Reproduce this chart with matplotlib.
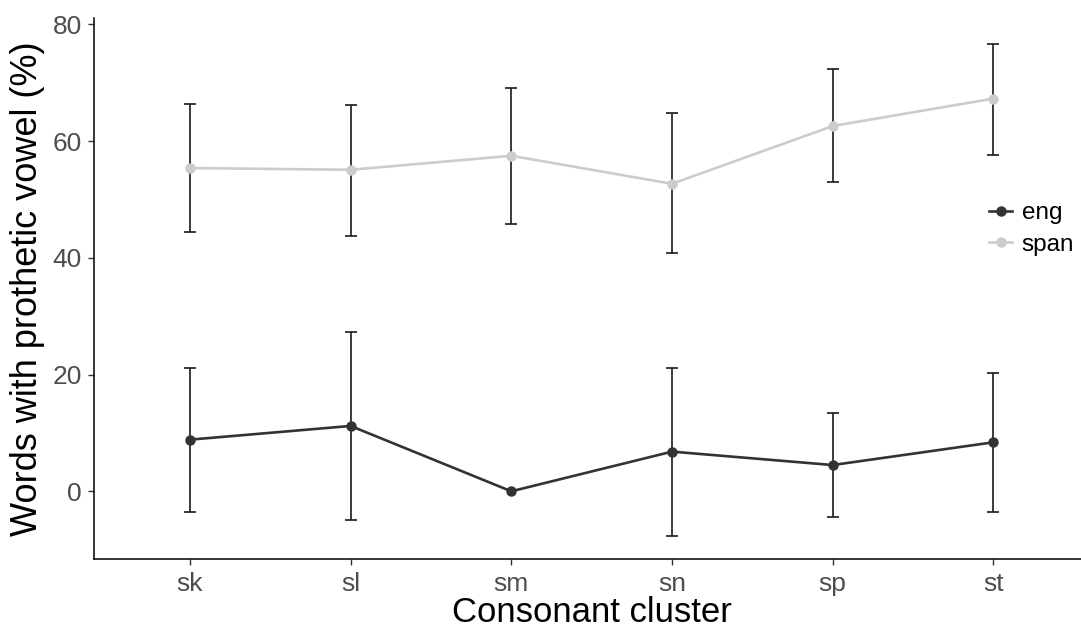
import matplotlib
matplotlib.use("Agg")
import matplotlib.pyplot as plt
import numpy as np
from matplotlib.lines import Line2D

plt.rcParams['font.family'] = ['Liberation Sans', 'DejaVu Sans']

clusters = ["sk", "sl", "sm", "sn", "sp", "st"]
eng_mean = [8.85, 11.2, 0.0, 6.8, 4.5, 8.4]
eng_low = [-3.6, -4.9, np.nan, -7.6, -4.4, -3.6]
eng_high = [21.1, 27.3, np.nan, 21.1, 13.5, 20.2]
span_mean = [55.4, 55.1, 57.5, 52.7, 62.6, 67.3]
span_low = [44.5, 43.8, 45.8, 40.9, 53.0, 57.7]
span_high = [66.4, 66.2, 69.2, 64.8, 72.3, 76.7]
yticks = [0, 20, 40, 60, 80]

W, H = 1081, 628
fig = plt.figure(figsize=(W / 100, H / 100), dpi=100)
left, right, top, bottom = 93.5, 1089.8, 18.3, 558.7
ax = fig.add_axes([left / W, 1 - bottom / H, (right - left) / W, (bottom - top) / H])

x = np.arange(len(clusters))
eng_col = "#333333"
span_col = "#CCCCCC"
lw = 1.9
ms = 6.5

for mean, lo, hi, col in [(span_mean, span_low, span_high, span_col),
                          (eng_mean, eng_low, eng_high, eng_col)]:
    m = np.array(mean, dtype=float)
    lo = np.array(lo, dtype=float)
    hi = np.array(hi, dtype=float)
    ax.plot(x, m, color=col, lw=lw, zorder=2)
    ok = ~np.isnan(lo)
    ax.errorbar(x[ok], m[ok], yerr=[m[ok] - lo[ok], hi[ok] - m[ok]], fmt="none",
                ecolor="#1a1a1a", elinewidth=1.2, capsize=4.5, capthick=1.2, zorder=3)
    ax.plot(x, m, "o", color=col, ms=ms, zorder=4)

ax.set_xlim(-0.6, len(clusters) - 1 + 0.6)
ax.set_ylim(-11.55, 81.06)
ax.set_xticks(x)
ax.set_xticklabels(clusters)
ax.set_yticks(yticks)
ax.tick_params(axis="both", labelsize=19, colors="#333333", labelcolor="#4D4D4D",
               length=4.5, width=1)
ax.tick_params(axis="x", pad=5)
ax.tick_params(axis="y", pad=4)
for s in ["top", "right"]:
    ax.spines[s].set_visible(False)
for s in ["left", "bottom"]:
    ax.spines[s].set_linewidth(1.1)
    ax.spines[s].set_color("black")

ax.set_xlabel("Consonant cluster", fontsize=25, color="black", labelpad=0)
ax.set_ylabel("Words with prothetic vowel (%)", fontsize=26, color="black", labelpad=5)

handles = [Line2D([0], [0], color=eng_col, lw=lw, marker="o", ms=ms),
           Line2D([0], [0], color=span_col, lw=lw, marker="o", ms=ms)]
leg = fig.legend(handles, ["eng", "span"], loc="center left",
                 bbox_to_anchor=(989 / W, 1 - 229 / H), frameon=False,
                 fontsize=17.5, handlelength=0.95, handletextpad=0.4, labelspacing=0.4,
                 borderaxespad=0, borderpad=0)

fig.savefig("out.png", dpi=100, facecolor="white")
